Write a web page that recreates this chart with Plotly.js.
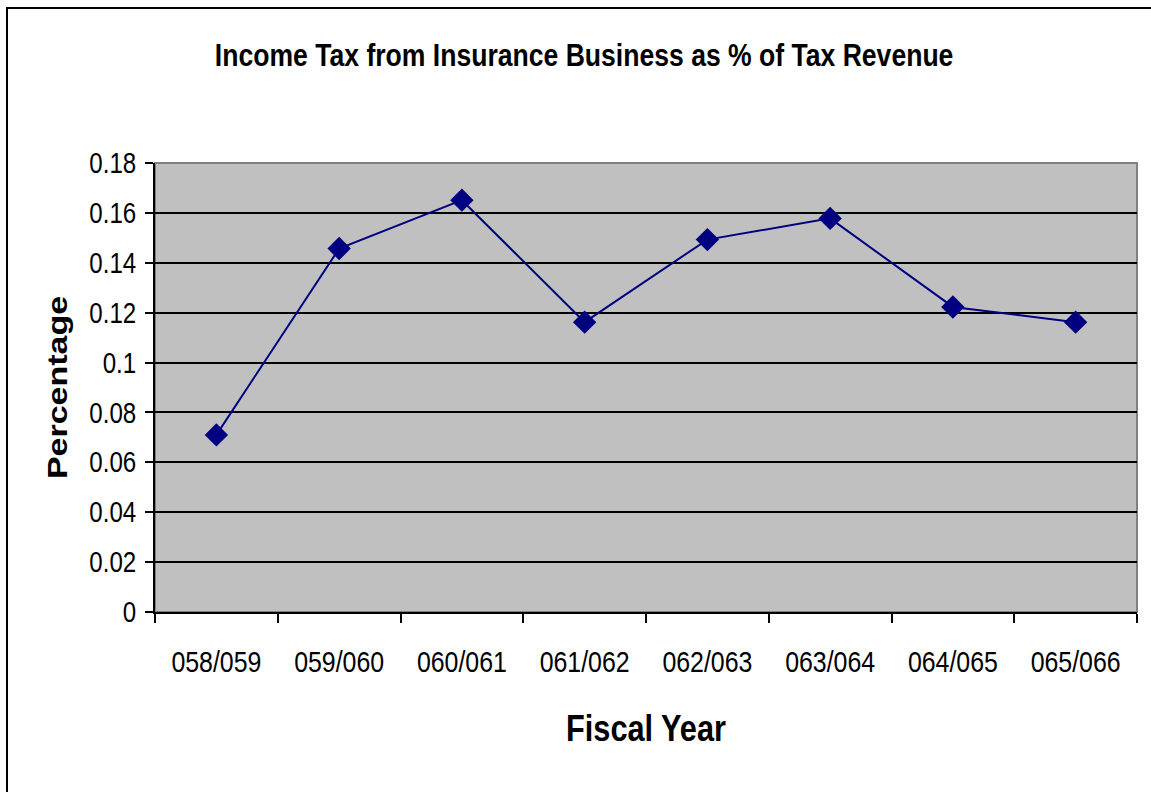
<!DOCTYPE html>
<html>
<head>
<meta charset="utf-8">
<script src="https://cdn.plot.ly/plotly-3.0.1.min.js"></script>
<style>
  html, body { margin: 0; padding: 0; background: #ffffff; }
  #chart { width: 1151px; height: 792px; position: absolute; left: 0; top: 0; }
  #frame { position: absolute; left: 6px; top: 7px; width: 1160px; height: 800px;
           border-left: 2px solid #000; border-top: 2px solid #000; pointer-events: none; }
</style>
</head>
<body>
<div id="chart"></div>
<div id="frame"></div>
<script>
const fiscalYears = ["058/059", "059/060", "060/061", "061/062", "062/063", "063/064", "064/065", "065/066"];
const percentages = [0.071, 0.1457, 0.1651, 0.1162, 0.1493, 0.1578, 0.1223, 0.1162];
const yTicks = [0, 0.02, 0.04, 0.06, 0.08, 0.1, 0.12, 0.14, 0.16, 0.18];
const yTickLabels = ["0", "0.02", "0.04", "0.06", "0.08", "0.1", "0.12", "0.14", "0.16", "0.18"];

const fontFam = "Liberation Sans, Arial, sans-serif";
const squeeze = 0.83; // the reference's text is horizontally condensed

const trace = {
  x: fiscalYears,
  y: percentages,
  type: "scatter",
  mode: "lines+markers",
  line: { color: "#000080", width: 2 },
  marker: { symbol: "diamond", size: 18, color: "#000080", line: { width: 0 } },
  hoverinfo: "x+y",
  showlegend: false
};

const layout = {
  width: 1151,
  height: 792,
  margin: { l: 155, r: 14, t: 163, b: 180 },
  paper_bgcolor: "#ffffff",
  plot_bgcolor: "#c0c0c0",
  title: {
    text: "<b>Income Tax from Insurance Business as % of Tax Revenue</b>",
    font: { family: fontFam, size: 32, color: "#000" },
    xref: "container", x: 0.5075, xanchor: "center",
    yref: "container", y: 0.931, yanchor: "middle"
  },
  xaxis: {
    type: "category",
    tickson: "boundaries",
    ticks: "outside", ticklen: 9, tickwidth: 2, tickcolor: "#000",
    showline: true, linecolor: "#000", linewidth: 2,
    showgrid: false, zeroline: false,
    tickfont: { family: fontFam, size: 30, color: "#000" },
    ticklabelstandoff: 22,
    title: { text: "<b>Fiscal Year</b>", font: { family: fontFam, size: 37, color: "#000" }, standoff: 38 },
    range: [-0.5, 7.5]
  },
  yaxis: {
    range: [0, 0.18],
    tickvals: yTicks, ticktext: yTickLabels,
    ticks: "outside", ticklen: 8, tickwidth: 2, tickcolor: "#000",
    showline: true, linecolor: "#000", linewidth: 2,
    showgrid: true, gridcolor: "#000", gridwidth: 2,
    zeroline: false,
    tickfont: { family: fontFam, size: 29, color: "#000" },
    ticklabelstandoff: 3,
    title: { text: "<b>Percentage</b>", font: { family: fontFam, size: 34, color: "#000" }, standoff: 2 }
  },
  shapes: [{
    type: "rect", xref: "paper", yref: "paper", x0: 0, x1: 1, y0: 0, y1: 1,
    line: { color: "#808080", width: 2 }, layer: "below"
  }]
};

Plotly.newPlot("chart", [trace], layout, { displayModeBar: false, staticPlot: true }).then(function (gd) {
  gd.querySelectorAll("svg text").forEach(function (t) {
    if (!t.textContent) return;
    if (t.classList.contains("ytitle")) {
      const x = parseFloat(t.getAttribute("x")) || 0;
      const y = parseFloat(t.getAttribute("y")) || 0;
      const tr = t.getAttribute("transform") || "";
      t.setAttribute("transform",
        "translate(" + x + "," + y + ") scale(" + squeeze + ",1) translate(" + (-x) + "," + (-y) + ") " + tr);
    } else {
      const w = t.getComputedTextLength();
      t.setAttribute("textLength", (w * squeeze).toFixed(2));
      t.setAttribute("lengthAdjust", "spacingAndGlyphs");
    }
  });
});
</script>
</body>
</html>
